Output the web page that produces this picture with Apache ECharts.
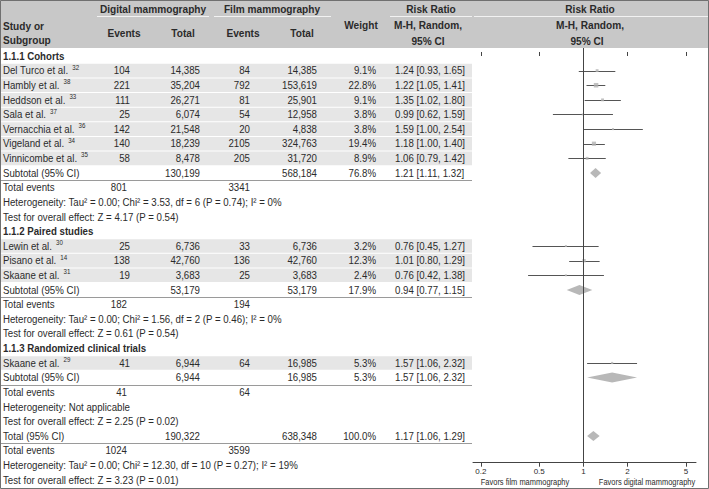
<!DOCTYPE html>
<html><head><meta charset="utf-8">
<script src="https://cdn.jsdelivr.net/npm/echarts@6/dist/echarts.min.js"></script>
<style>html,body{margin:0;padding:0;background:#fff}#c{width:709px;height:489px}</style>
</head><body><div id="c"></div>
<script>
// ---------------- data ----------------
const groupTitles = ['1.1.1 Cohorts', '1.1.2 Paired studies', '1.1.3 Randomized clinical trials'];
const studies = ['Del Turco et al.', 'Hambly et al.', 'Heddson et al.', 'Sala et al.', 'Vernacchia et al.', 'Vigeland et al.', 'Vinnicombe et al.', 'Lewin et al.', 'Pisano et al.', 'Skaane et al.', 'Skaane et al.'];
const studyRefs = ['32', '38', '33', '37', '36', '34', '35', '30', '14', '31', '29'];
const studyGroup = [0, 0, 0, 0, 0, 0, 0, 1, 1, 1, 2];
const digitalEvents = [104, 221, 111, 25, 142, 140, 58, 25, 138, 19, 41];
const digitalTotal = [14385, 35204, 26271, 6074, 21548, 18239, 8478, 6736, 42760, 3683, 6944];
const filmEvents = [84, 792, 81, 54, 20, 2105, 205, 33, 136, 25, 64];
const filmTotal = [14385, 153619, 25901, 12958, 4838, 324763, 31720, 6736, 42760, 3683, 16985];
const weights = [9.1, 22.8, 9.1, 3.8, 3.8, 19.4, 8.9, 3.2, 12.3, 2.4, 5.3];
const riskRatio = [1.24, 1.22, 1.35, 0.99, 1.59, 1.18, 1.06, 0.76, 1.01, 0.76, 1.57];
const ciLow = [0.93, 1.05, 1.02, 0.62, 1.00, 1.00, 0.79, 0.45, 0.80, 0.42, 1.06];
const ciHigh = [1.65, 1.41, 1.80, 1.59, 2.54, 1.40, 1.42, 1.27, 1.29, 1.38, 2.32];

// pooled rows: 3 subgroup subtotals + overall total
const pooledLabels = ['Subtotal (95% CI)', 'Subtotal (95% CI)', 'Subtotal (95% CI)', 'Total (95% CI)'];
const pooledDigitalTotal = [130199, 53179, 6944, 190322];
const pooledFilmTotal = [568184, 53179, 16985, 638348];
const pooledWeight = [76.8, 17.9, 5.3, 100.0];
const pooledRR = [1.21, 0.94, 1.57, 1.17];
const pooledLow = [1.11, 0.77, 1.06, 1.06];
const pooledHigh = [1.32, 1.15, 2.32, 1.29];
const pooledDigitalEvents = [801, 182, 41, 1024];
const pooledFilmEvents = [3341, 194, 64, 3599];
const heterogeneityText = [
  'Heterogeneity: Tau² = 0.00; Chi² = 3.53, df = 6 (P = 0.74); I² = 0%',
  'Heterogeneity: Tau² = 0.00; Chi² = 1.56, df = 2 (P = 0.46); I² = 0%',
  'Heterogeneity: Not applicable',
  'Heterogeneity: Tau² = 0.00; Chi² = 12.30, df = 10 (P = 0.27); I² = 19%'
];
const overallEffectText = [
  'Test for overall effect: Z = 4.17 (P = 0.54)',
  'Test for overall effect: Z = 0.61 (P = 0.54)',
  'Test for overall effect: Z = 2.25 (P = 0.02)',
  'Test for overall effect: Z = 3.23 (P = 0.01)'
];
const axisTicks = [0.2, 0.5, 1, 2, 5];
const favorsLabels = ['Favors film mammography', 'Favors digital mammography'];

// ---------------- build rows ----------------
const rows = [];
function pooledBlock(k) {
  rows.push({ kind: 'pooled', k });
  rows.push({ kind: 'events', k });
  rows.push({ kind: 'text', text: heterogeneityText[k] });
  rows.push({ kind: 'text', text: overallEffectText[k] });
}
for (let g = 0; g < groupTitles.length; g++) {
  rows.push({ kind: 'group', text: groupTitles[g] });
  studies.forEach((s, i) => { if (studyGroup[i] === g) rows.push({ kind: 'study', s: i }); });
  pooledBlock(g);
}
pooledBlock(3);

const L = Math.log10;
const studyPts = [], ciData = [], diamondData = [];
rows.forEach((r, idx) => {
  if (r.kind === 'study') {
    studyPts.push([L(riskRatio[r.s]), idx, weights[r.s]]);
    ciData.push([L(ciLow[r.s]), L(ciHigh[r.s]), idx]);
  } else if (r.kind === 'pooled') {
    diamondData.push([L(pooledLow[r.k]), L(pooledRR[r.k]), L(pooledHigh[r.k]), idx]);
  }
});

// ---------------- text styling ----------------
const FONT = "'Liberation Sans', Arial, sans-serif";
const FS = 11;          // body size
const HFS = 11.5;       // header size
const SX = 0.88;        // horizontal condensing to mimic the narrow original face
const TXT = '#2b2b2b';
const mctx = document.createElement('canvas').getContext('2d');
const fmtN = v => v.toLocaleString('en-US');
const fmtCI = (a, b, c) => a.toFixed(2) + ' [' + b.toFixed(2) + ', ' + c.toFixed(2) + ']';
function txt(text, x, y, align, opt) {
  opt = opt || {};
  return { type: 'text', x: x, y: y, scaleX: SX, scaleY: 1,
    style: { text: String(text), fill: TXT, fontSize: opt.size || FS, fontFamily: FONT, fontWeight: opt.bold ? 'bold' : 'normal', align: align, verticalAlign: 'middle' } };
}
function textWidth(s, size) {
  mctx.font = (size || FS) + 'px ' + FONT;
  return mctx.measureText(s).width * SX;
}

// column anchors
const C = { name: 3, dEv: 130, dTot: 200, fEv: 250, fTot: 317, wt: 376, ci: 395, tableRight: 472 };

function renderRow(params, api) {
  const idx = api.value(1);
  const r = rows[idx];
  const yc = api.coord([0, idx])[1];
  const ch = [];
  if (r.kind === 'group') {
    ch.push(txt(r.text, C.name, yc, 'left', { bold: true }));
  } else if (r.kind === 'study') {
    const s = r.s;
    ch.push({ type: 'rect', shape: { x: 0, y: yc - 6.8, width: C.tableRight, height: 13.6 }, style: { fill: '#e6e6e6' } });
    ch.push(txt(studies[s], C.name, yc, 'left'));
    ch.push(txt(studyRefs[s], C.name + textWidth(studies[s]) + 4, yc - 3.5, 'left', { size: 7 }));
    ch.push(txt(digitalEvents[s], C.dEv, yc, 'right'));
    ch.push(txt(fmtN(digitalTotal[s]), C.dTot, yc, 'right'));
    ch.push(txt(filmEvents[s], C.fEv, yc, 'right'));
    ch.push(txt(fmtN(filmTotal[s]), C.fTot, yc, 'right'));
    ch.push(txt(weights[s].toFixed(1) + '%', C.wt, yc, 'right'));
    ch.push(txt(fmtCI(riskRatio[s], ciLow[s], ciHigh[s]), C.ci, yc, 'left'));
  } else if (r.kind === 'pooled') {
    const k = r.k;
    ch.push(txt(pooledLabels[k], C.name, yc, 'left'));
    ch.push(txt(fmtN(pooledDigitalTotal[k]), C.dTot, yc, 'right'));
    ch.push(txt(fmtN(pooledFilmTotal[k]), C.fTot, yc, 'right'));
    ch.push(txt(pooledWeight[k].toFixed(1) + '%', C.wt, yc, 'right'));
    ch.push(txt(fmtCI(pooledRR[k], pooledLow[k], pooledHigh[k]), C.ci, yc, 'left'));
    const ly = Math.round(yc + 7) + 0.5;
    ch.push({ type: 'line', shape: { x1: 0, y1: ly, x2: C.tableRight, y2: ly }, style: { stroke: '#9a9a9a', lineWidth: 1 } });
  } else if (r.kind === 'events') {
    const k = r.k;
    ch.push(txt('Total events', C.name, yc, 'left'));
    ch.push(txt(pooledDigitalEvents[k], C.dEv - 3, yc, 'right'));
    ch.push(txt(pooledFilmEvents[k], C.fEv, yc, 'right'));
  } else {
    ch.push(txt(r.text, C.name, yc, 'left'));
  }
  return { type: 'group', children: ch };
}

// ---------------- layout ----------------
const GRID_TOP = 48, GRID_BOTTOM = 26.3;
const Y_MIN = -0.547, Y_MAX = 27.82;
const X_MIN = -0.752, X_MAX = 0.767;
const tickVals = axisTicks.map(v => L(v));

const g = [
  { type: 'rect', shape: { x: 0, y: 0, width: 709, height: 48 }, style: { fill: '#c8c8c8' }, z: -10 },
  { type: 'line', shape: { x1: 97, y1: 16.5, x2: 209, y2: 16.5 }, style: { stroke: '#f2f2f2', lineWidth: 1 } },
  { type: 'line', shape: { x1: 214, y1: 16.5, x2: 331, y2: 16.5 }, style: { stroke: '#f2f2f2', lineWidth: 1 } },
  { type: 'line', shape: { x1: 390, y1: 16.5, x2: 472, y2: 16.5 }, style: { stroke: '#f2f2f2', lineWidth: 1 } },
  { type: 'line', shape: { x1: 474, y1: 16.5, x2: 709, y2: 16.5 }, style: { stroke: '#f2f2f2', lineWidth: 1 } }
];
const headerTexts = [
  ['Digital mammography', 153, 9, 'center'], ['Film mammography', 272, 9, 'center'],
  ['Study or', 3, 26, 'left'], ['Subgroup', 3, 40, 'left'],
  ['Events', 124, 33, 'center'], ['Total', 183, 33, 'center'],
  ['Events', 243, 33, 'center'], ['Total', 302, 33, 'center'],
  ['Weight', 361, 25, 'center'],
  ['Risk Ratio', 431, 9, 'center'], ['M-H, Random,', 428, 25, 'center'], ['95% CI', 428, 41, 'center'],
  ['Risk Ratio', 590, 9, 'center'], ['M-H, Random,', 590, 25, 'center'], ['95% CI', 587, 41, 'center']
];
headerTexts.forEach(h => g.push(txt(h[0], h[1], h[2], h[3], { bold: true, size: HFS })));
g.push(txt(favorsLabels[0], 525, 482, 'center', { size: 8.5 }));
g.push(txt(favorsLabels[1], 647, 482, 'center', { size: 8.5 }));
g.push({ type: 'rect', shape: { x: 0.5, y: 0.5, width: 708, height: 488 }, style: { fill: 'none', stroke: '#707070', lineWidth: 1 }, z: 100 });

const option = {
  animation: false,
  backgroundColor: '#fff',
  graphic: g,
  grid: [
    { left: 473, width: 223, top: GRID_TOP, bottom: GRID_BOTTOM },
    { left: 0, right: 0, top: GRID_TOP, bottom: GRID_BOTTOM }
  ],
  xAxis: [
    { type: 'value', gridIndex: 0, min: X_MIN, max: X_MAX, position: 'bottom',
      axisLine: { show: true, onZero: false, lineStyle: { color: '#444', width: 1 } },
      axisTick: { show: true, length: 4, customValues: tickVals, lineStyle: { color: '#444' } },
      axisLabel: { show: true, customValues: tickVals, fontSize: 8, margin: 5, color: TXT, fontFamily: FONT,
        formatter: v => String(Math.round(Math.pow(10, v) * 10) / 10) },
      splitLine: { show: false } },
    { type: 'value', gridIndex: 0, min: X_MIN, max: X_MAX, position: 'bottom',
      axisLine: { show: false },
      axisTick: { show: true, inside: true, length: 4, customValues: tickVals, lineStyle: { color: '#444' } },
      axisLabel: { show: false }, splitLine: { show: false } },
    { type: 'value', gridIndex: 1, min: 0, max: 709, show: false }
  ],
  yAxis: [
    { type: 'value', gridIndex: 0, min: Y_MIN, max: Y_MAX, inverse: true, show: false },
    { type: 'value', gridIndex: 1, min: Y_MIN, max: Y_MAX, inverse: true, show: false }
  ],
  series: [
    { type: 'custom', xAxisIndex: 2, yAxisIndex: 1, clip: false, silent: true, z: 1,
      data: rows.map((r, i) => [0, i]), encode: { x: 0, y: 1 }, renderItem: renderRow },
    { type: 'custom', xAxisIndex: 0, yAxisIndex: 0, silent: true, z: 3,
      data: ciData, encode: { x: [0, 1], y: 2 },
      renderItem: (p, api) => {
        const a = api.coord([api.value(0), api.value(2)]);
        const b = api.coord([api.value(1), api.value(2)]);
        const y = Math.round(a[1]) + 0.5;
        return { type: 'line', shape: { x1: a[0], y1: y, x2: b[0], y2: y }, style: { stroke: '#555', lineWidth: 1 } };
      },
      markLine: { silent: true, symbol: 'none', label: { show: false }, animation: false,
        lineStyle: { color: '#444', width: 1, type: 'solid' }, data: [{ xAxis: 0 }] } },
    { type: 'scatter', xAxisIndex: 0, yAxisIndex: 0, silent: true, z: 4,
      data: studyPts, symbol: 'rect',
      symbolSize: v => Math.max(2, 0.95 * Math.sqrt(v[2])),
      itemStyle: { color: '#b3b3b3' } },
    { type: 'custom', xAxisIndex: 0, yAxisIndex: 0, silent: true, z: 4,
      data: diamondData, encode: { x: [0, 1, 2], y: 3 },
      renderItem: (p, api) => {
        const y = api.value(3);
        const lo = api.coord([api.value(0), y]);
        const mid = api.coord([api.value(1), y]);
        const hi = api.coord([api.value(2), y]);
        return { type: 'polygon', shape: { points: [[lo[0], lo[1]], [mid[0], mid[1] - 5], [hi[0], hi[1]], [mid[0], mid[1] + 5]] },
          style: { fill: '#b8b8b8' } };
      } }
  ]
};

const chart = echarts.init(document.getElementById('c'), null, { renderer: 'svg' });
chart.setOption(option);
</script>
</body></html>
